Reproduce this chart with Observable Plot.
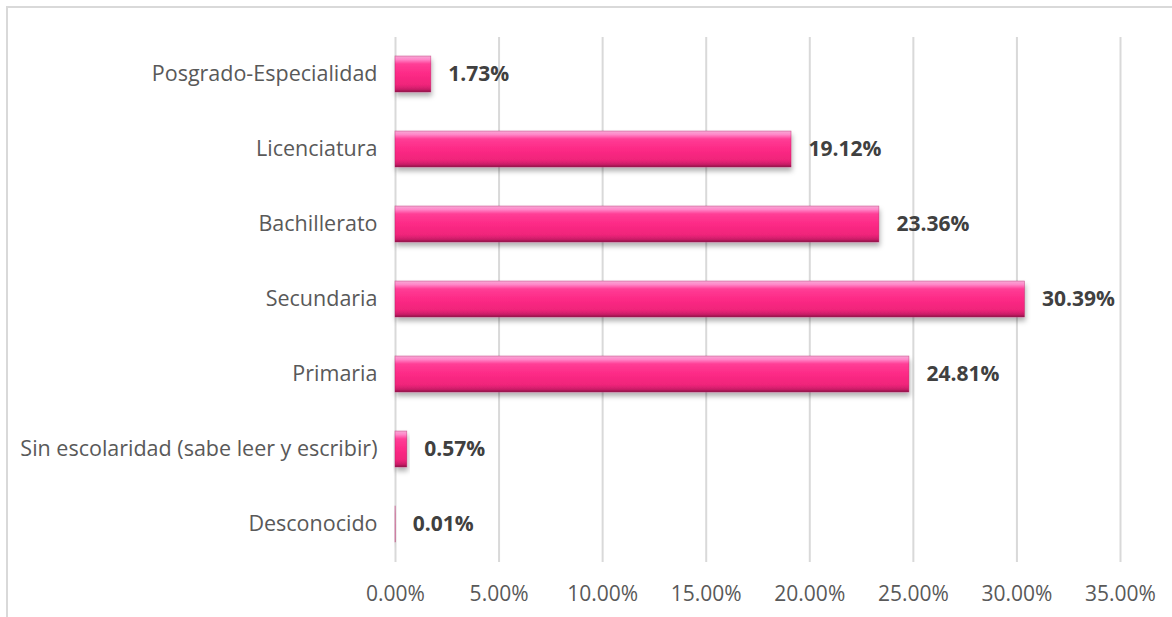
<!DOCTYPE html>
<html>
<head>
<meta charset="utf-8">
<script src="https://cdn.jsdelivr.net/npm/d3@7"></script>
<script src="https://cdn.jsdelivr.net/npm/@observablehq/plot@0.6"></script>
<style>
  html, body { margin: 0; padding: 0; background: #ffffff; }
  #wrap { position: relative; width: 1172px; height: 617px; overflow: hidden; }
  #frame { position: absolute; left: 6px; top: 6px; right: -10px; bottom: -10px;
           border-left: 2px solid #d9d9d9; border-top: 2px solid #d9d9d9; pointer-events: none; }
</style>
</head>
<body>
<div id="wrap"><div id="frame"></div></div>
<script>
const categories = [
  "Posgrado-Especialidad",
  "Licenciatura",
  "Bachillerato",
  "Secundaria",
  "Primaria",
  "Sin escolaridad (sabe leer y escribir)",
  "Desconocido"
];
const values = [1.73, 19.12, 23.36, 30.39, 24.81, 0.57, 0.01];
const xTicks = [0, 5, 10, 15, 20, 25, 30, 35];

const data = categories.map((c, i) => ({category: c, value: values[i]}));
const fmt = d => d.toFixed(2) + "%";

const chart = Plot.plot({
  width: 1172,
  height: 617,
  marginLeft: 395,
  marginRight: 52,
  marginTop: 37,
  marginBottom: 55,
  style: {fontFamily: "'Open Sans', sans-serif", fontSize: "21px", color: "#595959", background: "transparent"},
  x: {domain: [0, 35], ticks: xTicks, tickFormat: fmt, tickSize: 0, tickPadding: 24, label: null},
  y: {domain: categories, paddingInner: 0.52, paddingOuter: 0.26, tickSize: 0, tickPadding: 18, label: null},
  marks: [
    Plot.gridX(xTicks, {stroke: "#d9d9d9", strokeOpacity: 1, strokeWidth: 2}),
    Plot.barX(data, {x: "value", y: "category", fill: "url(#barGrad)",
      stroke: "#b01a5c", strokeWidth: 0.6, strokeOpacity: 0.6}),
    Plot.text(data, {x: "value", y: "category", text: d => fmt(d.value), textAnchor: "start", dx: 17,
      fontWeight: "bold", fill: "#404040", fontSize: 21}),
    Plot.axisX({ticks: xTicks, tickFormat: fmt, tickSize: 0, tickPadding: 24, fill: "#595959", fontSize: 21}),
    Plot.axisY({tickSize: 0, tickPadding: 18, fill: "#595959", fontSize: 21.5})
  ]
});

const svg = d3.select(chart);
const defs = svg.insert("defs", ":first-child");
const g = defs.append("linearGradient").attr("id", "barGrad").attr("x1", 0).attr("y1", 0).attr("x2", 0).attr("y2", 1);
[[0, "#f6a9d6"], [0.1, "#ff86c8"], [0.22, "#ff3d96"], [0.5, "#fd2a86"], [0.8, "#f0247a"], [0.92, "#cc1d69"], [1, "#8f1447"]]
  .forEach(([o, c]) => g.append("stop").attr("offset", o).attr("stop-color", c));
const f = defs.append("filter").attr("id", "shadow").attr("x", "-10%").attr("y", "-20%").attr("width", "130%").attr("height", "160%");
f.append("feDropShadow").attr("dx", 1).attr("dy", 4).attr("stdDeviation", 2.5).attr("flood-color", "#000").attr("flood-opacity", 0.3);
svg.selectAll("rect").filter(function() { return this.getAttribute("fill") === "url(#barGrad)" || (this.parentNode && this.parentNode.getAttribute("fill") === "url(#barGrad)"); })
  .attr("filter", "url(#shadow)");

document.getElementById("wrap").insertBefore(chart, document.getElementById("frame"));
chart.style.position = "absolute";
chart.style.left = "0px";
chart.style.top = "0px";
</script>
</body>
</html>
